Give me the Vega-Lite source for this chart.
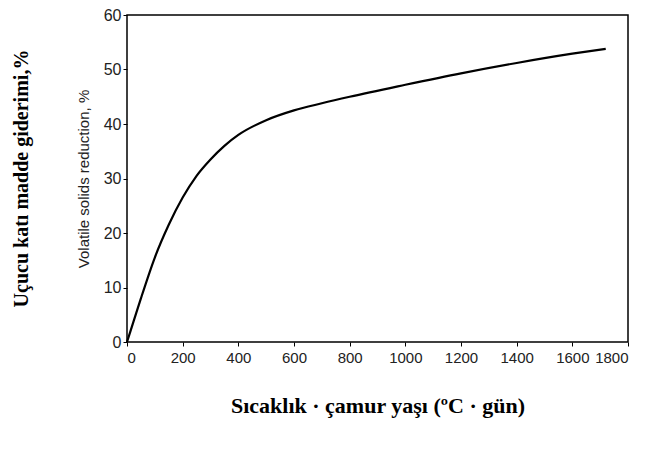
{
  "$schema": "https://vega.github.io/schema/vega-lite/v6.json",
  "width": 501,
  "height": 327,
  "autosize": "none",
  "padding": {"left": 127, "top": 15, "right": 17, "bottom": 108},
  "background": "white",
  "title": {
    "text": "Uçucu katı madde giderimi,%",
    "orient": "left",
    "font": "Liberation Serif",
    "fontSize": 20,
    "fontWeight": "bold",
    "color": "black",
    "offset": 44,
    "anchor": "middle"
  },
  "config": {
    "view": {"stroke": "black", "strokeWidth": 1.5},
    "axis": {
      "grid": false,
      "domain": false,
      "tickColor": "black",
      "tickSize": 4,
      "labelFont": "Liberation Sans",
      "labelFontSize": 16,
      "labelColor": "#222",
      "labelOverlap": false
    }
  },
  "data": {
    "values": [
      {"x": 0, "y": 0},
      {"x": 25, "y": 4},
      {"x": 50, "y": 8},
      {"x": 100, "y": 15.5},
      {"x": 150, "y": 21.5},
      {"x": 200, "y": 26.5},
      {"x": 250, "y": 30.5},
      {"x": 300, "y": 33.5},
      {"x": 350, "y": 36},
      {"x": 400, "y": 38},
      {"x": 500, "y": 40.7},
      {"x": 600, "y": 42.5},
      {"x": 700, "y": 43.8},
      {"x": 800, "y": 45},
      {"x": 1000, "y": 47.2},
      {"x": 1200, "y": 49.3},
      {"x": 1400, "y": 51.2},
      {"x": 1600, "y": 52.9},
      {"x": 1720, "y": 53.8}
    ]
  },
  "mark": {"type": "line", "color": "black", "strokeWidth": 2.2, "interpolate": "monotone"},
  "encoding": {
    "x": {
      "field": "x", "type": "quantitative",
      "scale": {"domain": [0, 1800], "nice": false},
      "axis": {
        "values": [0, 200, 400, 600, 800, 1000, 1200, 1400, 1600, 1800],
        "format": "d",
        "labelFontSize": 15,
        "labelPadding": 4,
        "title": "Sıcaklık · çamur yaşı (ºC · gün)",
        "titleFont": "Liberation Serif",
        "titleFontSize": 22,
        "titleFontWeight": "bold",
        "titleColor": "black",
        "titlePadding": 30
      }
    },
    "y": {
      "field": "y", "type": "quantitative",
      "scale": {"domain": [0, 60], "nice": false},
      "axis": {
        "values": [0, 10, 20, 30, 40, 50, 60],
        "title": "Volatile solids reduction, %",
        "titleFont": "Liberation Sans",
        "titleFontSize": 15,
        "titleFontWeight": "normal",
        "titleColor": "#222",
        "titlePadding": 12
      }
    }
  }
}
